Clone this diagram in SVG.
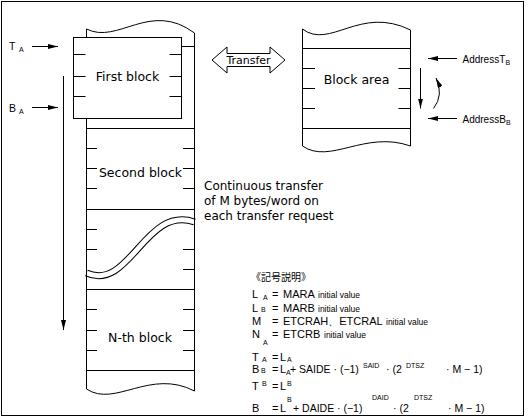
<svg xmlns="http://www.w3.org/2000/svg" width="528" height="419" viewBox="0 0 528 419">
<defs>
<marker id="ah" viewBox="0 0 10 5" refX="10" refY="2.5" markerWidth="10" markerHeight="5" markerUnits="userSpaceOnUse" orient="auto"><path d="M0,0 L10,2.5 L0,5 z" fill="#000"/></marker>
</defs>
<style>
.ln{stroke:#000;stroke-width:1;fill:none}
.lbl{font-family:"DejaVu Sans",sans-serif;font-size:12.5px;fill:#000}
.t{font-family:"Liberation Sans",Arial,sans-serif;font-size:11px;fill:#000}
.f{font-size:10.5px}
.s{font-size:7px}
.iv{font-size:8.5px}
.cjk{font-family:"Liberation Sans","Noto Sans CJK JP",sans-serif;font-size:10px;fill:#000}
</style>
<rect width="528" height="419" fill="#fff"/>
<rect x="1.5" y="1.5" width="522" height="414" class="ln"/>

<g id="source-area">
<path d="M86.5,273 C130,292 145,205 194.5,222" stroke="#000" stroke-width="7" fill="none"/>
<path d="M86.5,273 C130,292 145,205 194.5,222" stroke="#fff" stroke-width="5" fill="none"/>
<path class="ln" d="M86.5,29 C118,45 150,0 194.5,33"/>
<path class="ln" d="M86.5,29 V389 M194.5,33 V391 M86.5,46.5 H194.5"/>
<path class="ln" d="M86.5,389 C115,408 150,368 194.5,391"/>
<path class="ln" d="M86.5,128.5 H194.5 M86.5,209.5 H194.5 M86.5,289.5 H194.5 M86.5,370.5 H194.5"/>
<path class="ln" d="M86.5,148.5 H97 M183,148.5 H194.5 M86.5,168.5 H97 M183,168.5 H194.5 M86.5,188.5 H97 M183,188.5 H194.5"/>
<path class="ln" d="M86.5,229.5 H97 M86.5,249.5 H97 M183,249.5 H194.5 M183,269.5 H194.5"/>
<path class="ln" d="M86.5,309.5 H97 M183,309.5 H194.5 M86.5,330.5 H97 M183,330.5 H194.5 M86.5,350.5 H97 M183,350.5 H194.5"/>
<text class="lbl" x="140.5" y="177" text-anchor="middle">Second block</text>
<text class="lbl" x="140" y="341.5" text-anchor="middle">N-th block</text>
</g>

<g id="first-block">
<rect x="73.5" y="37.5" width="108" height="81" fill="#fff" stroke="#000" stroke-width="1"/>
<path class="ln" d="M73.5,54.5 H85.5 M169.5,54.5 H181.5 M73.5,76.5 H85.5 M169.5,76.5 H181.5 M73.5,96.5 H85.5 M169.5,96.5 H181.5"/>
<text class="lbl" x="127.5" y="80.5" text-anchor="middle">First block</text>
</g>

<g id="block-area">
<path class="ln" d="M302.5,29 C330,50 360,5 410.5,30"/>
<path class="ln" d="M302.5,29 V146 M410.5,30 V146"/>
<path class="ln" d="M302.5,146 C330,165 365,130 410.5,146"/>
<path class="ln" d="M302.5,48.5 H410.5 M302.5,128.5 H410.5"/>
<path class="ln" d="M302.5,68.5 H315 M398.5,68.5 H410.5 M302.5,88.5 H315 M398.5,88.5 H410.5 M302.5,108.5 H315 M398.5,108.5 H410.5"/>
<text class="lbl" x="356.5" y="84" text-anchor="middle">Block area</text>
</g>

<g id="transfer">
<polygon points="212,60 227,47 227,53.5 270,53.5 270,47 285,60 270,73 270,66.5 227,66.5 227,73" fill="#fff" stroke="#000" stroke-width="1"/>
<text class="lbl" x="248.5" y="64" text-anchor="middle" style="font-size:11px">Transfer</text>
</g>

<g id="connectors">
<line class="ln" x1="32" y1="46.5" x2="58" y2="46.5" marker-end="url(#ah)"/>
<line class="ln" x1="32" y1="107.5" x2="58" y2="107.5" marker-end="url(#ah)"/>
<line class="ln" x1="63.5" y1="76" x2="63.5" y2="330" marker-end="url(#ah)"/>
<line class="ln" x1="457" y1="58.5" x2="428" y2="58.5" marker-end="url(#ah)"/>
<line class="ln" x1="457" y1="118.5" x2="428" y2="118.5" marker-end="url(#ah)"/>
<line class="ln" x1="420.5" y1="68" x2="420.5" y2="108.5" marker-end="url(#ah)"/>
<path class="ln" d="M433.5,108.5 Q444,95 436,78" marker-end="url(#ah)"/>
</g>

<g id="labels">
<text class="t" x="9" y="50" style="font-size:10.5px">T</text><text class="t s" x="19" y="52">A</text>
<text class="t" x="9" y="111.5" style="font-size:10.5px">B</text><text class="t s" x="19" y="113.5">A</text>
<text class="t" x="462.5" y="63" style="font-size:10px">AddressT</text><text class="t s" x="505.5" y="65">B</text>
<text class="t" x="462.5" y="123" style="font-size:10px">AddressB</text><text class="t s" x="506" y="125">B</text>
<text class="lbl" x="204" y="189.5" style="font-size:12px">Continuous transfer</text>
<text class="lbl" x="204" y="204.5" style="font-size:12px">of M bytes/word on</text>
<text class="lbl" x="204" y="219.5" style="font-size:12px">each transfer request</text>
</g>

<g id="legend">
<text class="cjk" x="251" y="281">《記号説明》</text>
<text class="t" x="252" y="298">L</text><text class="t s" x="263" y="300">A</text><text class="t" x="272" y="298">=</text><text class="t" x="283" y="298">MARA</text><text class="t iv" x="318" y="298">initial value</text>
<text class="t" x="252" y="311.5">L</text><text class="t s" x="261" y="311.5">B</text><text class="t" x="272" y="311.5">=</text><text class="t" x="283" y="311.5">MARB</text><text class="t iv" x="318" y="311.5">initial value</text>
<text class="t" x="252" y="325">M</text><text class="t" x="272" y="325">=</text><text class="t" x="283" y="325">ETCRAH、ETCRAL</text><text class="t iv" x="386" y="325">initial value</text>
<text class="t" x="252" y="338">N</text><text class="t s" x="263" y="344.5">A</text><text class="t" x="272" y="338">=</text><text class="t" x="283" y="338">ETCRB</text><text class="t iv" x="324" y="338">initial value</text>
<text class="t" x="252" y="360.5">T</text><text class="t s" x="262" y="362">A</text><text class="t" x="272" y="360.5">=</text><text class="t" x="280" y="360.5">L</text><text class="t s" x="287" y="362">A</text>
<text class="t" x="252" y="373">B</text><text class="t s" x="261" y="373">B</text><text class="t" x="272" y="373">=</text><text class="t" x="280" y="373">L</text><text class="t s" x="286" y="374.5">A</text><text class="t f" x="290" y="373">+ SAIDE · (−1)</text><text class="t s" x="363" y="367.5">SAID</text><text class="t f" x="386" y="373">· (2</text><text class="t s" x="406" y="367.5">DTSZ</text><text class="t f" x="446" y="373">· M − 1)</text>
<text class="t" x="252" y="390">T</text><text class="t s" x="262" y="386">B</text><text class="t" x="272" y="390">=</text><text class="t" x="280" y="390">L</text><text class="t s" x="287" y="386">B</text>
<text class="t" x="252" y="411.5">B</text><text class="t" x="272" y="411.5">=</text><text class="t" x="280" y="411.5">L</text><text class="t s" x="287" y="401.5">B</text><text class="t f" x="293" y="411.5">+ DAIDE · (−1)</text><text class="t s" x="372" y="399.5">DAID</text><text class="t f" x="393" y="411.5">· (2</text><text class="t s" x="414" y="399.5">DTSZ</text><text class="t f" x="448" y="411.5">· M − 1)</text>
</g>
</svg>
